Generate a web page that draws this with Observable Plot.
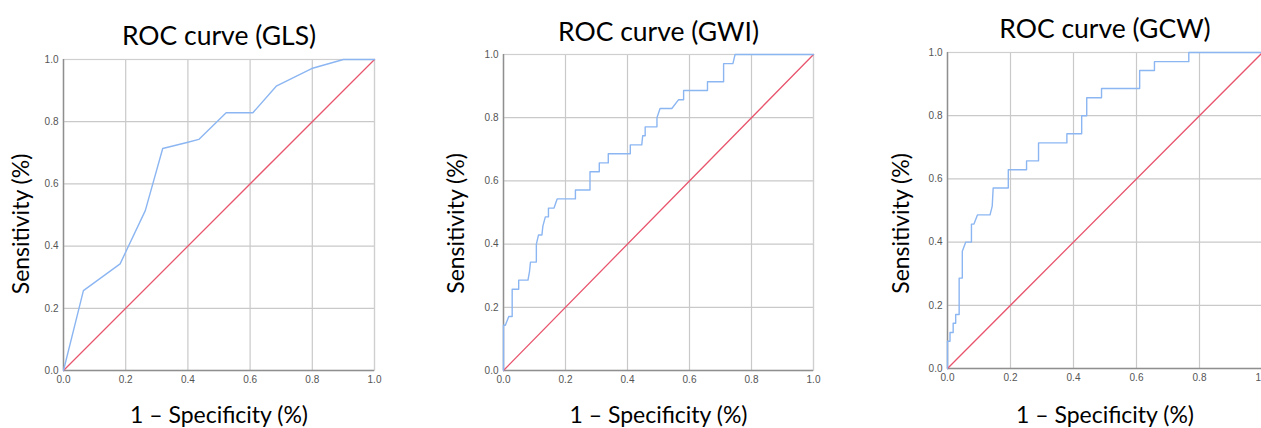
<!DOCTYPE html>
<html>
<head>
<meta charset="utf-8">
<script src="https://cdn.jsdelivr.net/npm/d3@7"></script>
<script src="https://cdn.jsdelivr.net/npm/@observablehq/plot@0.6"></script>
<style>
  html, body { margin: 0; padding: 0; background: #fff; overflow: hidden; }
  #wrap { position: relative; width: 1261px; height: 428px; overflow: hidden; }
  .panel { position: absolute; top: 0; }
  .panel svg { max-width: none !important; }
</style>
</head>
<body>
<div id="wrap"></div>
<script>
// ---- data ----
const titles = ["ROC curve (GLS)", "ROC curve (GWI)", "ROC curve (GCW)"];
const xLabel = "1 – Specificity (%)";
const yLabel = "Sensitivity (%)";
const ticks = [0, 0.2, 0.4, 0.6, 0.8, 1.0];
const diagonal = [0, 1];

const glsFpr = [0, 0.064, 0.182, 0.263, 0.319, 0.397, 0.435, 0.523, 0.609, 0.684, 0.798, 0.900, 1];
const glsTpr = [0, 0.257, 0.343, 0.514, 0.714, 0.733, 0.743, 0.829, 0.829, 0.914, 0.971, 1.000, 1];

const gwiFpr = [0, 0, 0.006, 0.017, 0.028, 0.028, 0.049, 0.049, 0.079, 0.084, 0.087, 0.106, 0.106, 0.113, 0.124, 0.127, 0.135, 0.145, 0.145, 0.163, 0.173, 0.232, 0.232, 0.279, 0.279, 0.309, 0.309, 0.338, 0.338, 0.409, 0.409, 0.446, 0.449, 0.457, 0.457, 0.495, 0.495, 0.505, 0.543, 0.565, 0.581, 0.581, 0.658, 0.658, 0.710, 0.710, 0.740, 0.747, 1];
const gwiTpr = [0, 0.143, 0.143, 0.171, 0.171, 0.257, 0.257, 0.286, 0.286, 0.314, 0.343, 0.343, 0.400, 0.429, 0.429, 0.457, 0.486, 0.486, 0.514, 0.514, 0.543, 0.543, 0.571, 0.571, 0.629, 0.629, 0.657, 0.657, 0.686, 0.686, 0.714, 0.714, 0.743, 0.743, 0.771, 0.771, 0.800, 0.829, 0.829, 0.857, 0.857, 0.886, 0.886, 0.914, 0.914, 0.971, 0.971, 1, 1];

const gcwFpr = [0, 0, 0.008, 0.008, 0.018, 0.018, 0.026, 0.026, 0.037, 0.037, 0.047, 0.047, 0.058, 0.076, 0.076, 0.084, 0.095, 0.135, 0.142, 0.145, 0.193, 0.193, 0.251, 0.251, 0.289, 0.289, 0.379, 0.379, 0.426, 0.426, 0.442, 0.442, 0.489, 0.489, 0.610, 0.610, 0.657, 0.657, 0.766, 0.766, 1];
const gcwTpr = [0, 0.086, 0.086, 0.114, 0.114, 0.143, 0.143, 0.171, 0.171, 0.286, 0.286, 0.371, 0.400, 0.400, 0.457, 0.457, 0.486, 0.486, 0.514, 0.571, 0.571, 0.629, 0.629, 0.657, 0.657, 0.714, 0.714, 0.743, 0.743, 0.800, 0.800, 0.857, 0.857, 0.886, 0.886, 0.943, 0.943, 0.971, 0.971, 1, 1];

// ---- layout ----
const panels = [
  {title: titles[0], fpr: glsFpr, tpr: glsTpr, left: 0,   width: 420, ml: 63,  mr: 46, mt: 59, mb: 58, tdy: -15, xdy: 52, ydx: -35, ydy: 9},
  {title: titles[1], fpr: gwiFpr, tpr: gwiTpr, left: 420, width: 420, ml: 83,  mr: 27, mt: 54, mb: 58, tdy: -14, xdy: 52, ydx: -40, ydy: 11},
  {title: titles[2], fpr: gcwFpr, tpr: gcwTpr, left: 840, width: 423, ml: 107, mr: 1,  mt: 52, mb: 60, tdy: -15, xdy: 54, ydx: -39, ydy: 13}
];

const labelFont = "Lato, 'Open Sans', sans-serif";
const wrap = document.getElementById("wrap");

for (const p of panels) {
  const curve = p.fpr.map((x, i) => ({x, y: p.tpr[i]}));
  const diag = diagonal.map(v => ({x: v, y: v}));
  const chart = Plot.plot({
    width: p.width,
    height: 428,
    marginLeft: p.ml,
    marginRight: p.mr,
    marginTop: p.mt,
    marginBottom: p.mb,
    style: {fontFamily: "'Liberation Sans', Arial, sans-serif", background: "#fff", overflow: "visible"},
    x: {domain: [0, 1], ticks, label: null},
    y: {domain: [0, 1], ticks, label: null},
    marks: [
      Plot.gridX(ticks, {stroke: "#c9c9c9", strokeOpacity: 1, strokeWidth: 1.2}),
      Plot.gridY(ticks, {stroke: "#c9c9c9", strokeOpacity: 1, strokeWidth: 1.2}),
      Plot.frame({stroke: "#cfcfcf", strokeWidth: 1.2}),
      Plot.ruleX([0], {stroke: "#8f8f8f", strokeWidth: 1.4}),
      Plot.ruleY([0], {stroke: "#8f8f8f", strokeWidth: 1.4}),
      Plot.axisX({ticks, tickSize: 0, tickPadding: 5, tickFormat: d3.format(".1f"), fontSize: 10, color: "#555", label: null}),
      Plot.axisY({ticks, tickSize: 0, tickPadding: 5, tickFormat: d3.format(".1f"), fontSize: 10, color: "#555", label: null}),
      Plot.line(diag, {x: "x", y: "y", stroke: "#e8566e", strokeWidth: 1.3}),
      Plot.line(curve, {x: "x", y: "y", stroke: "#8cb6f2", strokeWidth: 1.4}),
      Plot.text([p.title], {frameAnchor: "top", lineAnchor: "bottom", dy: p.tdy, fontSize: 26.5, fontFamily: labelFont, fill: "#000"}),
      Plot.text([xLabel], {frameAnchor: "bottom", lineAnchor: "bottom", dy: p.xdy, fontSize: 23, fontFamily: labelFont, fill: "#000"}),
      Plot.text([yLabel], {frameAnchor: "left", textAnchor: "middle", lineAnchor: "bottom", rotate: -90, dx: p.ydx, dy: p.ydy, fontSize: 23, fontFamily: labelFont, fill: "#000"})
    ]
  });
  const div = document.createElement("div");
  div.className = "panel";
  div.style.left = p.left + "px";
  div.appendChild(chart);
  wrap.appendChild(div);
}
</script>
</body>
</html>
